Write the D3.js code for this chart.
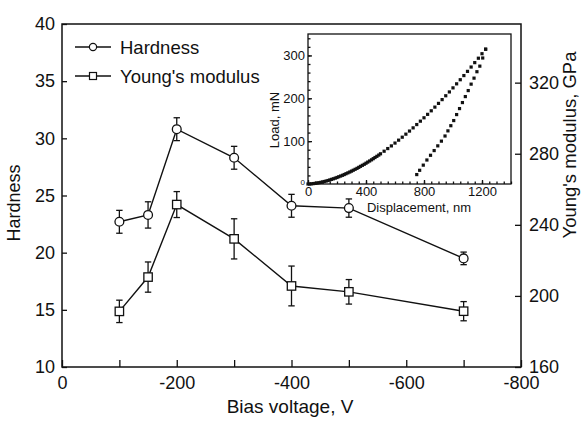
<!DOCTYPE html>
<html><head><meta charset="utf-8">
<script src="https://cdn.jsdelivr.net/npm/d3@7"></script>
<style>
body{margin:0;background:#fff}
text{font-family:"Liberation Sans",Arial,Helvetica,sans-serif;fill:#111}
</style>
</head><body><svg id="c" width="581" height="422"></svg>
<script>
// ---- main chart data ----
const biasVoltage = [-100, -150, -200, -300, -400, -500, -700];
const hardness    = [22.7, 23.3, 30.8, 28.3, 24.1, 23.9, 19.5];
const hardnessErr = [1.0, 1.15, 1.0, 1.0, 1.0, 0.8, 0.55];
const modulus     = [191.3, 210.6, 251.4, 232.1, 205.6, 202.3, 191.4];
const modulusErr  = [6.3, 8.5, 7.3, 11.3, 11.2, 6.9, 5.4];
const xTickLabels = [0, -200, -400, -600, -800];
const xMinorTicks = [0, -100, -200, -300, -400, -500, -600, -700, -800];
const hardTicks   = [10, 15, 20, 25, 30, 35, 40];
const modTicks    = [160, 200, 240, 280, 320];
const seriesNames = ["Hardness", "Young's modulus"];
// ---- inset data (load–displacement) ----
const loadDisp  = [0,12,25,38,50,62,75,88,100,112,125,138,150,162,175,188,200,212,225,238,250,262,275,288,300,312,325,338,350,362,375,388,400,412,425,438,450,462,475,488,500,525,550,575,600,625,650,675,700,725,750,775,800,825,850,875,900,925,950,975,1000,1025,1050,1075,1100,1125,1150,1175,1200,1225];
const loadForce = [0,0.15,0.5,1,1.5,2.2,3,3.8,4.8,5.8,6.9,8.1,9.4,10.8,12.2,13.7,15.2,16.9,18.6,20.3,22.1,24,26,28,30,32.1,34.3,36.5,38.8,41.2,43.6,46,48.5,51.1,53.7,56.4,59.1,61.8,64.6,67.5,70.5,76.5,82.7,88.9,95.5,102.3,109.2,116.3,123.5,131,138.7,146.6,154.5,162.5,170.8,179.4,188.1,196.9,205.9,214.8,224.3,233.7,243.3,253,262.8,272.9,283.2,293.5,304,314.5];
const unloadDisp  = [1225,1205,1185,1165,1145,1125,1105,1085,1065,1045,1025,1005,985,965,945,920,895,870,845,820,795,770,750];
const unloadForce = [314.5,294,275,262,247,233,218,204,190,176,162,148,136,124,112,100,89,78,67,56,44,32,22];
const insetXTicks = [0, 400, 800, 1200];
const insetYTicks = [0, 100, 200, 300];
const insetXMinor = d3.range(0, 1401, 50);
const insetYMinor = d3.range(0, 341, 20);

const svg = d3.select("#c");
const L = 62, R = 521, T = 24, B = 367;
const x  = d3.scaleLinear().domain([0, -800]).range([L, R]);
const yL = d3.scaleLinear().domain([10, 40]).range([B, T]);
const yR = d3.scaleLinear().domain([160, 353]).range([B, T]);
const plain = d => String(d);

function styleAxis(g, fs){
  g.select(".domain").remove();
  g.selectAll(".tick line").attr("stroke","#111").attr("stroke-width",1.3);
  g.selectAll(".tick text").attr("font-size",fs).attr("fill","#111")
    .attr("font-family","Liberation Sans, Arial, sans-serif");
}

// x ticks (every 100, inward) and labels (every 200)
svg.append("g").attr("transform",`translate(0,${B})`)
  .call(d3.axisBottom(x).tickValues(xMinorTicks).tickSizeInner(-7).tickSizeOuter(0).tickFormat(""))
  .call(g=>styleAxis(g,18));
svg.append("g").attr("transform",`translate(0,${B})`)
  .call(d3.axisBottom(x).tickValues(xTickLabels).tickSize(0).tickPadding(9).tickFormat(plain))
  .call(g=>styleAxis(g,18));
svg.append("g").attr("transform",`translate(${L},0)`)
  .call(d3.axisLeft(yL).tickValues(hardTicks).tickSizeInner(-5).tickSizeOuter(0).tickPadding(7).tickFormat(plain))
  .call(g=>styleAxis(g,18));
svg.append("g").attr("transform",`translate(${R},0)`)
  .call(d3.axisRight(yR).tickValues(modTicks).tickSizeInner(-6).tickSizeOuter(0).tickPadding(8).tickFormat(plain))
  .call(g=>styleAxis(g,18));

svg.append("rect").attr("x",L).attr("y",T).attr("width",R-L).attr("height",B-T)
  .attr("fill","none").attr("stroke","#111").attr("stroke-width",1.5);

// axis titles
svg.append("text").attr("transform","translate(20,203) rotate(-90)").attr("text-anchor","middle")
  .attr("font-size",18).text("Hardness");
svg.append("text").attr("transform","translate(576,145) rotate(-90)").attr("text-anchor","middle")
  .attr("font-size",18.5).text("Young's modulus, GPa");
svg.append("text").attr("x",290).attr("y",413).attr("text-anchor","middle")
  .attr("font-size",19).text("Bias voltage, V");

// series
const hData = biasVoltage.map((v,i)=>({v, y:hardness[i], e:hardnessErr[i]}));
const mData = biasVoltage.map((v,i)=>({v, y:modulus[i], e:modulusErr[i]}));

function drawSeries(data, ys, shape){
  const g = svg.append("g");
  g.append("path").datum(data)
    .attr("d", d3.line().x(d=>x(d.v)).y(d=>ys(d.y)))
    .attr("fill","none").attr("stroke","#111").attr("stroke-width",1.4);
  const eb = g.selectAll(".eb").data(data).enter().append("g");
  eb.append("line").attr("x1",d=>x(d.v)).attr("x2",d=>x(d.v))
    .attr("y1",d=>ys(d.y+d.e)).attr("y2",d=>ys(d.y-d.e)).attr("stroke","#111").attr("stroke-width",1.3);
  [1,-1].forEach(s=>{
    eb.append("line").attr("x1",d=>x(d.v)-3.2).attr("x2",d=>x(d.v)+3.2)
      .attr("y1",d=>ys(d.y+s*d.e)).attr("y2",d=>ys(d.y+s*d.e)).attr("stroke","#111").attr("stroke-width",1.3);
  });
  if(shape==="circle"){
    g.selectAll(".m").data(data).enter().append("circle")
      .attr("cx",d=>x(d.v)).attr("cy",d=>ys(d.y)).attr("r",4.4)
      .attr("fill","#fff").attr("stroke","#111").attr("stroke-width",1.3);
  } else {
    g.selectAll(".m").data(data).enter().append("rect")
      .attr("x",d=>x(d.v)-4.2).attr("y",d=>ys(d.y)-4.2).attr("width",8.4).attr("height",8.4)
      .attr("fill","#fff").attr("stroke","#111").attr("stroke-width",1.3);
  }
}
drawSeries(hData, yL, "circle");
drawSeries(mData, yR, "square");

// legend
const leg = svg.append("g");
[0,1].forEach(i=>{
  const cy = 47 + i*29;
  leg.append("line").attr("x1",75).attr("x2",111).attr("y1",cy).attr("y2",cy)
    .attr("stroke","#111").attr("stroke-width",1.4);
  if(i===0) leg.append("circle").attr("cx",93).attr("cy",cy).attr("r",3.6)
    .attr("fill","#fff").attr("stroke","#111").attr("stroke-width",1.2);
  else leg.append("rect").attr("x",89.5).attr("y",cy-3.5).attr("width",7).attr("height",7)
    .attr("fill","#fff").attr("stroke","#111").attr("stroke-width",1.2);
  leg.append("text").attr("x",120).attr("y",cy+6.5).attr("font-size",18.5).text(seriesNames[i]);
});

// inset
const iL = 308, iR = 511, iT = 34, iB = 184;
const xi = d3.scaleLinear().domain([0,1400]).range([iL,iR]);
const yi = d3.scaleLinear().domain([0,350]).range([iB,iT]);
svg.append("rect").attr("x",iL).attr("y",iT).attr("width",iR-iL).attr("height",iB-iT)
  .attr("fill","#fff").attr("stroke","none");
svg.append("g").attr("transform",`translate(0,${iB})`)
  .call(d3.axisBottom(xi).tickValues(insetXMinor).tickSizeInner(-2.5).tickSizeOuter(0).tickFormat(""))
  .call(g=>styleAxis(g,13));
svg.append("g").attr("transform",`translate(0,${iB})`)
  .call(d3.axisBottom(xi).tickValues(insetXTicks).tickSizeInner(-4).tickSizeOuter(0).tickPadding(3).tickFormat(plain))
  .call(g=>styleAxis(g,13));
svg.append("g").attr("transform",`translate(${iL},0)`)
  .call(d3.axisLeft(yi).tickValues(insetYMinor).tickSizeInner(-2.5).tickSizeOuter(0).tickFormat(""))
  .call(g=>styleAxis(g,13));
svg.append("g").attr("transform",`translate(${iL},0)`)
  .call(d3.axisLeft(yi).tickValues(insetYTicks).tickSizeInner(-4).tickSizeOuter(0).tickPadding(3).tickFormat(plain))
  .call(g=>{styleAxis(g,13); g.selectAll(".tick text").filter(d=>d===0).attr("font-size",8).attr("dy","0.1em");});
svg.append("rect").attr("x",iL).attr("y",iT).attr("width",iR-iL).attr("height",iB-iT)
  .attr("fill","none").attr("stroke","#111").attr("stroke-width",1.3);

const loadPts = loadDisp.map((h,i)=>({h, p:loadForce[i]}));
const unloadPts = unloadDisp.map((h,i)=>({h, p:unloadForce[i]}));
svg.append("g").selectAll("rect").data(loadPts.concat(unloadPts)).enter().append("rect")
  .attr("x",d=>xi(d.h)-1.6).attr("y",d=>yi(d.p)-1.6).attr("width",3.2).attr("height",3.2).attr("fill","#111");

svg.append("text").attr("transform","translate(279,120) rotate(-90)").attr("text-anchor","middle")
  .attr("font-size",13).text("Load, mN");
svg.append("text").attr("x",419).attr("y",212).attr("text-anchor","middle")
  .attr("font-size",13).text("Displacement, nm");
</script>
</body></html>
